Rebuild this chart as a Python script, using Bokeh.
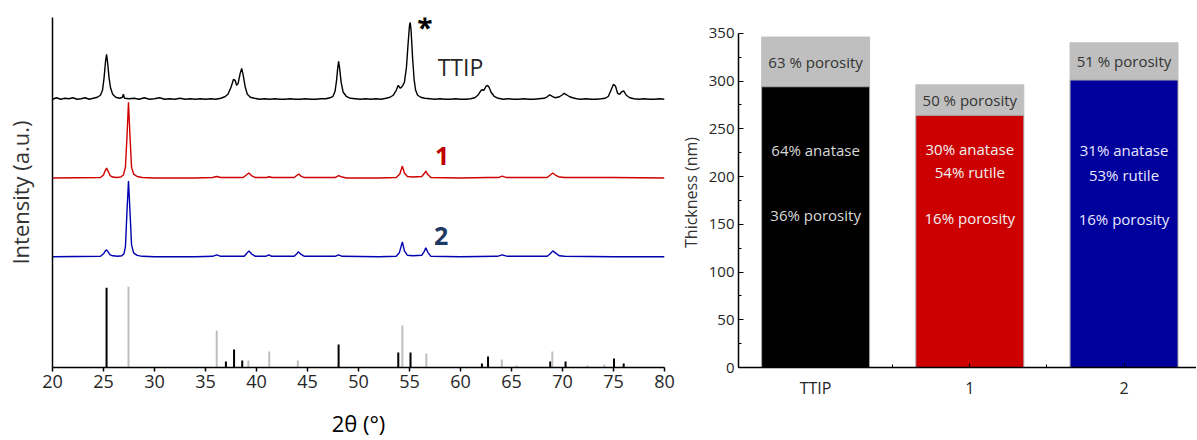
from bokeh.plotting import figure
from bokeh.layouts import row
from bokeh.models import Range1d, FixedTicker, Label, ColumnDataSource
from bokeh.core.properties import value
from bokeh.embed import file_html
from bokeh.resources import INLINE

FONT = "Open Sans"

# ---------------- XRD data (2theta, offset intensity in a.u.) ----------------
ttip_x = [20.0, 20.4, 20.8, 21.2, 21.6, 22.0, 22.4, 22.8, 23.2, 23.6, 24.0, 24.4, 24.7, 24.9, 25.05,
          25.2, 25.3, 25.4, 25.55, 25.7, 25.9, 26.2, 26.6, 26.85, 26.95, 27.05, 27.5, 28.0, 28.5, 29.0,
          29.5, 30.0, 30.5, 31.0, 31.5, 32.0, 32.5, 33.0, 33.5, 34.0, 34.5, 35.0, 35.5, 36.0, 36.5,
          36.9, 37.2, 37.5, 37.75, 37.9, 38.05, 38.2, 38.4, 38.55, 38.7, 38.9, 39.1, 39.4, 39.8, 40.3,
          40.8, 41.3, 41.8, 42.3, 42.8, 43.3, 43.8, 44.3, 44.8, 45.3, 45.8, 46.3, 46.8, 47.2, 47.5,
          47.7, 47.85, 47.95, 48.05, 48.15, 48.3, 48.5, 48.8, 49.2, 49.7, 50.2, 50.7, 51.2, 51.7, 52.2,
          52.7, 53.1, 53.4, 53.7, 53.9, 54.1, 54.3, 54.5, 54.7, 54.85, 55.0, 55.07, 55.15, 55.3, 55.45,
          55.6, 55.8, 56.1, 56.5, 57.0, 57.5, 58.0, 58.5, 59.0, 59.5, 60.0, 60.5, 61.0, 61.4, 61.7,
          61.95, 62.1, 62.3, 62.5, 62.65, 62.8, 63.0, 63.3, 63.7, 64.2, 64.7, 65.2, 65.7, 66.2, 66.7,
          67.2, 67.7, 68.2, 68.5, 68.75, 69.0, 69.3, 69.7, 70.0, 70.15, 70.4, 70.7, 71.0, 71.4, 71.8,
          72.3, 72.8, 73.3, 73.8, 74.2, 74.5, 74.75, 75.0, 75.2, 75.4, 75.6, 75.8, 76.0, 76.25, 76.6,
          77.0, 77.5, 78.0, 78.5, 79.0, 79.5, 80.0]
ttip_y = [268, 269.5, 268, 269, 268.5, 269.5, 268, 268.5, 269.5, 268, 269, 270, 272, 277, 289,
          306, 313, 305, 289, 279, 273, 270, 269, 270, 273, 269, 268.5, 269, 268, 269.5,
          268, 268.5, 269.5, 268, 268.5, 268, 269, 268, 268.5, 268, 268.5, 268, 268.5, 268, 269,
          270.5, 273, 280, 288, 287, 282, 284, 294, 299, 292, 280, 273, 270, 269, 268,
          268.5, 268, 268.5, 268, 268, 268.5, 268, 268, 268.5, 268, 268, 268.5, 268.5, 269.5, 271,
          276, 287, 298, 306, 299, 285, 275, 271, 269, 268.5, 268, 268.5, 268, 268.5, 268,
          269, 270, 272, 277, 282, 279, 281, 285, 300, 322, 342, 345, 338, 310, 288,
          277, 272, 270, 269, 268.5, 268, 268.5, 268, 268, 268.5, 268, 268, 268.5, 269.5, 272,
          276, 277.5, 277, 281, 282, 280, 275, 271, 269, 268, 268.5, 268, 268, 268.5, 268,
          268, 268.5, 269, 270.5, 272.5, 271, 269.5, 270.5, 272.5, 274, 272.5, 270.5, 269.5, 268.5, 268,
          268.5, 268, 268, 268.5, 269, 271, 277, 283, 281, 274, 273, 275.5, 276.5, 272, 269.5,
          268.5, 268, 268.5, 268, 268, 268.5, 268]

s1_x = [20.0, 24.7, 25.0, 25.15, 25.3, 25.45, 25.65, 25.9, 26.3, 26.7, 26.95, 27.15, 27.3, 27.45, 27.6,
        27.75, 27.95, 28.3, 28.8, 30.0, 32.0, 34.0, 35.7, 36.1, 36.5, 38.7, 39.0, 39.25, 39.5, 39.9,
        41.0, 41.25, 41.5, 43.7, 44.0, 44.15, 44.35, 44.7, 47.7, 48.05, 48.4, 48.8, 52.0, 53.7, 54.05,
        54.3, 54.5, 54.8, 55.3, 56.2, 56.45, 56.6, 56.8, 57.1, 60.0, 62.7, 63.7, 64.1, 64.5, 68.5,
        68.8, 69.05, 69.3, 69.7, 70.2, 75.0, 80.0]
s1_y = [189, 189.5, 192, 196, 199, 196, 191.5, 190, 189.5, 190, 192, 200, 230, 265, 230,
        200, 193, 190.5, 189.5, 189, 189, 189, 189.5, 190.5, 189.5, 189.5, 192, 194, 191.5, 189.5,
        189.5, 190.3, 189.5, 189.5, 192, 193, 191, 189.5, 189.5, 191.5, 190, 189, 189, 189.5, 193,
        201, 194, 190.5, 190, 190.5, 193.5, 196, 192.5, 189.5, 189, 189.5, 189.5, 191, 189.5, 189.5,
        192, 194, 192, 190, 189.5, 189.5, 189]

s2_x = [20.0, 24.7, 25.0, 25.15, 25.3, 25.45, 25.65, 25.9, 26.4, 26.8, 27.0, 27.15, 27.3, 27.45, 27.6,
        27.75, 27.95, 28.3, 28.8, 30.0, 34.0, 35.7, 36.1, 36.5, 38.8, 39.05, 39.25, 39.5, 39.9, 40.9,
        41.2, 41.5, 43.7, 43.95, 44.1, 44.3, 44.7, 47.7, 48.05, 48.4, 52.0, 53.7, 54.0, 54.3, 54.5,
        54.8, 55.3, 56.2, 56.45, 56.6, 56.8, 57.1, 60.0, 63.6, 64.1, 64.6, 68.5, 68.8, 69.05, 69.3,
        69.7, 70.2, 75.0, 80.0]
s2_y = [110, 110.5, 113, 115.5, 117, 115, 112, 111, 110.5, 111, 113, 120, 155, 186, 155,
        122, 114, 111.5, 110.5, 110, 110, 110.5, 112, 110.5, 110.5, 113.5, 116, 113, 110.5, 110.5,
        112, 110.5, 110.5, 113, 115, 113, 110.5, 110.5, 112, 110.5, 110, 110.5, 114, 125, 116,
        111.5, 111, 111.5, 115.5, 119, 114.5, 110.5, 110, 110.5, 112, 110.5, 110.5, 113, 116, 114,
        111, 110.5, 110, 110]

# reference patterns (anatase = black, rutile = grey)
anatase_pos = [25.3, 37.0, 37.8, 38.6, 48.05, 53.9, 55.1, 62.1, 62.7, 68.8, 70.3, 75.05, 76.0]
anatase_int = [79, 5, 17, 6, 22, 14, 14, 3, 10, 5, 5, 8, 3]
rutile_pos = [27.45, 36.1, 39.2, 41.25, 44.05, 54.3, 56.65, 64.05, 65.5, 69.0, 72.45, 74.1]
rutile_int = [80, 36, 6, 15, 6, 41, 13, 7, 1, 15, 1, 2]

xrd_ticks = [20, 25, 30, 35, 40, 45, 50, 55, 60, 65, 70, 75, 80]

# ---------------- Thickness data ----------------
samples = ["TTIP", "1", "2"]
dense_thickness = [294, 264, 301]
total_thickness = [346, 296, 340]
bar_colors = ["#000000", "#cc0000", "#00009c"]
top_labels = ["63 % porosity", "50 % porosity", "51 % porosity"]
anatase_labels = ["64% anatase", "30% anatase", "31% anatase"]
rutile_labels = ["", "54% rutile", "53% rutile"]
inner_porosity_labels = ["36% porosity", "16% porosity", "16% porosity"]
thick_ticks = [0, 50, 100, 150, 200, 250, 300, 350]

H = 440
TOP = 17
BOTTOM = 72  # frames of both panels share top and bottom edges (row alignment)

# ================= Left figure: XRD =================
p1 = figure(width=676, height=H, output_backend="svg", toolbar_location=None,
            x_range=Range1d(20, 80), y_range=Range1d(-1, 350),
            min_border_left=52, min_border_right=12, min_border_top=TOP, min_border_bottom=BOTTOM)
p1.title.visible = False
p1.outline_line_color = None
p1.xgrid.visible = False
p1.ygrid.visible = False

p1.segment(x0=anatase_pos, y0=[-1] * len(anatase_pos), x1=anatase_pos, y1=anatase_int,
           line_color="black", line_width=2)
p1.segment(x0=rutile_pos, y0=[-1] * len(rutile_pos), x1=rutile_pos, y1=rutile_int,
           line_color="#bfbfbf", line_width=2)

p1.line(ttip_x, ttip_y, line_color="black", line_width=1.4)
p1.line(s1_x, s1_y, line_color="#d00000", line_width=1.4)
p1.line(s2_x, s2_y, line_color="#0000b0", line_width=1.4)

xa = p1.xaxis[0]
xa.ticker = FixedTicker(ticks=xrd_ticks, minor_ticks=[])
xa.major_tick_in = 0
xa.major_tick_out = 4
xa.axis_line_width = 1.5
xa.major_tick_line_width = 1.5
xa.major_label_text_font = FONT
xa.major_label_text_font_size = "18px"
xa.major_label_text_color = "#262626"
xa.major_label_standoff = 3
xa.axis_label = "2θ (°)"
xa.axis_label_text_font = FONT
xa.axis_label_text_font_size = "22px"
xa.axis_label_text_font_style = "normal"
xa.axis_label_text_color = "#000000"
xa.axis_label_standoff = 17

ya = p1.yaxis[0]
ya.ticker = FixedTicker(ticks=[], minor_ticks=[])
ya.major_tick_in = 0
ya.major_tick_out = 0
ya.axis_line_width = 1.5
ya.major_label_standoff = 0
ya.axis_label = "Intensity (a.u.)"
ya.axis_label_text_font = FONT
ya.axis_label_text_font_size = "22px"
ya.axis_label_text_font_style = "normal"
ya.axis_label_text_color = "#333333"
ya.axis_label_standoff = 18

for txt, x, y, col, size, style, base in [
    ("*", 56.5, 340, "#000000", "28px", "bold", "alphabetic"),
    ("TTIP", 60.0, 300, "#262626", "23px", "normal", "middle"),
    ("1", 58.2, 211, "#c00000", "25px", "bold", "middle"),
    ("2", 58.1, 131, "#1f3864", "25px", "bold", "middle"),
]:
    p1.add_layout(Label(x=x, y=y, text=txt, text_align="center", text_baseline=base,
                        text_color=col, text_font=FONT, text_font_size=size,
                        text_font_style=style))

# ================= Right figure: thickness bars =================
xs = [1, 2, 3]
src = ColumnDataSource(dict(
    x=xs, dense=dense_thickness, total=total_thickness, color=bar_colors,
    top_label=top_labels, top_y=[(d + t) / 2 for d, t in zip(dense_thickness, total_thickness)],
))

p2 = figure(width=520, height=H, output_backend="svg", toolbar_location=None,
            x_range=Range1d(0.5, 3.47), y_range=Range1d(0, 366.5),
            min_border_left=62, min_border_right=0, min_border_top=TOP, min_border_bottom=BOTTOM)
p2.title.visible = False
p2.outline_line_color = None
p2.xgrid.visible = False
p2.ygrid.visible = False

p2.vbar(x="x", bottom="dense", top="total", width=0.7, source=src,
        fill_color="#bfbfbf", line_color="#bfbfbf", line_width=1)
p2.vbar(x="x", bottom=0, top="dense", width=0.7, source=src,
        fill_color="color", line_color="#a6a6a6", line_width=1)

p2.text(x="x", y="top_y", text="top_label", source=src, text_align="center",
        text_baseline="middle", text_color="#333333", text_font=value(FONT),
        text_font_size="15px")
inner_colors = ["#d9d9d9", "#f2f2f2", "#e8e8ff"]
src2 = ColumnDataSource(dict(x=xs, anatase=anatase_labels, rutile=rutile_labels,
                             por=inner_porosity_labels, col=inner_colors,
                             ya=[227.5, 229, 227.5], yr=[204, 205, 201.5], yp=[160, 157, 155]))
for col_name, y_name in [("anatase", "ya"), ("rutile", "yr"), ("por", "yp")]:
    p2.text(x="x", y=y_name, text=col_name, source=src2, text_align="center",
            text_baseline="middle", text_color="col", text_font=value(FONT),
            text_font_size="15px")

xb = p2.xaxis[0]
xb.ticker = FixedTicker(ticks=xs, minor_ticks=[1.5, 2.5])
xb.major_label_overrides = {1: samples[0], 2: samples[1], 3: samples[2]}
xb.major_tick_in = 4
xb.major_tick_out = 0
xb.minor_tick_in = 3
xb.minor_tick_out = 0
xb.axis_line_width = 1.5
xb.major_label_text_font = FONT
xb.major_label_text_font_size = "16px"
xb.major_label_text_color = "#262626"
xb.major_label_standoff = 9

yb = p2.yaxis[0]
yb.ticker = FixedTicker(ticks=thick_ticks, minor_ticks=[25, 75, 125, 175, 225, 275, 325])
yb.bounds = (0, 350)
yb.major_tick_in = 5
yb.major_tick_out = 0
yb.minor_tick_in = 3
yb.minor_tick_out = 0
yb.axis_line_width = 1.5
yb.major_label_text_font = FONT
yb.major_label_text_font_size = "15px"
yb.major_label_text_color = "#262626"
yb.major_label_standoff = 4
yb.axis_label = "Thickness (nm)"
yb.axis_label_text_font = FONT
yb.axis_label_text_font_size = "16px"
yb.axis_label_text_font_style = "normal"
yb.axis_label_text_color = "#333333"
yb.axis_label_standoff = 4

layout = row(p1, p2)
open("out.html", "w").write(file_html(layout, INLINE))
